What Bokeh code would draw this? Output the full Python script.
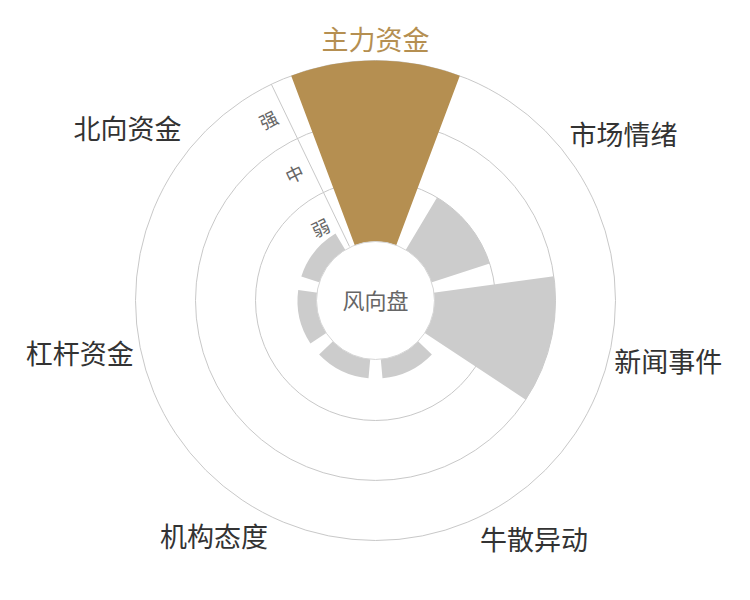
import math
from bokeh.plotting import figure
from bokeh.models import Range1d
from bokeh.embed import file_html
from bokeh.resources import INLINE
from bokeh.core.properties import value

# ---- data ----
categories = ["主力资金", "市场情绪", "新闻事件", "牛散异动", "机构态度", "杠杆资金", "北向资金"]
values = [3.0, 1.0, 2.0, 0.3, 0.3, 0.3, 0.3]
levels = ["弱", "中", "强"]
center_title = "风向盘"
highlight = "主力资金"

GOLD = "#b58f51"
GRAY = "#cccccc"
FONT = value("Noto Sans CJK SC")

R0 = 60.0      # inner radius (hole)
BAND = 60.0    # radius per level
n = len(categories)
step = 2 * math.pi / n
centers = [math.pi / 2 - i * step for i in range(n)]
half = 0.4 * step
a0 = math.pi / 2 + step / 2   # radial axis direction

p = figure(width=734, height=584, x_range=Range1d(-375, 359), y_range=Range1d(-284, 300),
           output_backend="svg", toolbar_location=None, min_border=0)
p.axis.visible = False
p.grid.visible = False
p.outline_line_color = None
p.background_fill_color = "white"
p.border_fill_color = "white"

# grid circles
rings = [R0 + (j + 1) * BAND for j in range(len(levels))]
p.circle(x=[0] * len(rings), y=[0] * len(rings), radius=rings,
         fill_color=None, line_color="#c8c8c8", line_width=1)

# radial axis line
p.segment(x0=[R0 * math.cos(a0)], y0=[R0 * math.sin(a0)],
          x1=[rings[-1] * math.cos(a0)], y1=[rings[-1] * math.sin(a0)],
          line_color="#c8c8c8", line_width=1)

# bars
outer = [R0 + v * BAND for v in values]
colors = [GOLD if c == highlight else GRAY for c in categories]
p.annular_wedge(x=[0] * n, y=[0] * n, inner_radius=40, outer_radius=outer,
                start_angle=[c - half for c in centers], end_angle=[c + half for c in centers],
                fill_color=colors, line_color=None)

# center disc
p.circle(x=[0], y=[0], radius=R0 - 1, fill_color="white", line_color="#d6d6d6", line_width=1)
p.text(x=[0], y=[2], text=[center_title], text_align="center", text_baseline="middle",
       text_font=FONT, text_font_size="22px", text_color="#666666")

# level labels along radial axis
lx, ly = [], []
for j in range(len(levels)):
    r = R0 + (j + 0.5) * BAND
    lx.append(r * math.cos(a0) - 18 * math.sin(a0))
    ly.append(r * math.sin(a0) + 18 * math.cos(a0))
p.text(x=lx, y=ly, text=levels, angle=a0 - math.pi / 2, text_align="center",
       text_baseline="middle", text_font=FONT, text_font_size="18px", text_color="#666666")

# category labels (small pixel nudges per position)
nudge = [(0, -5), (0, -7), (-3, -5), (-3, 5), (0, 8), (0, 3), (0, -1)]
LR = rings[-1] + 8
for c, a, (dx, dy) in zip(categories, centers, nudge):
    ca, sa = math.cos(a), math.sin(a)
    align = "center" if abs(ca) < 0.1 else ("left" if ca > 0 else "right")
    base = "middle" if abs(sa) < 0.3 else ("bottom" if sa > 0 else "top")
    p.text(x=[LR * ca + dx], y=[LR * sa + dy], text=[c], text_align=align, text_baseline=base,
           text_font=FONT, text_font_size="27px",
           text_color=GOLD if c == highlight else "#333333")

open("out.html", "w").write(file_html(p, INLINE))
